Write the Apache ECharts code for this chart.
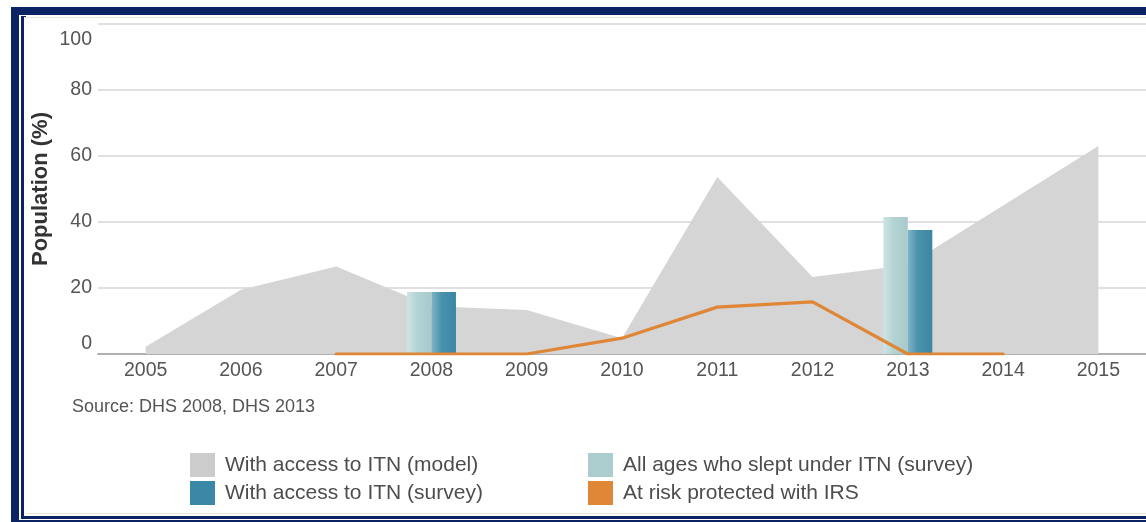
<!DOCTYPE html>
<html>
<head>
<meta charset="utf-8">
<script src="https://cdn.jsdelivr.net/npm/echarts@6/dist/echarts.min.js"></script>
<style>
  html, body { margin: 0; padding: 0; background: #ffffff; overflow: hidden; }
  #wrap { position: relative; width: 1146px; height: 522px; overflow: hidden; background: #fff; }
  .nv { position: absolute; background: #0b2263; }
  .bg { position: absolute; background: #e9e7de; }
  #chart { position: absolute; left: 0; top: 0; width: 1146px; height: 522px; }
</style>
</head>
<body>
<div id="wrap">
  <div class="nv" style="left:11px;top:7px;width:1200px;height:8px;"></div>
  <div class="nv" style="left:11px;top:7px;width:8px;height:600px;"></div>
  <div class="nv" style="left:11px;top:520px;width:1200px;height:8px;"></div>
  <div class="nv" style="left:21px;top:16px;width:3px;height:503px;"></div>
  <div class="nv" style="left:21px;top:16px;width:5px;height:1px;"></div>
  <div class="nv" style="left:21px;top:516px;width:1200px;height:3px;"></div>
  <div class="bg" style="left:24px;top:17px;width:1200px;height:1px;"></div>
  <div class="bg" style="left:26px;top:513px;width:1200px;height:1px;"></div>
  <div id="chart"></div>
</div>
<script>
const years = ['2005','2006','2007','2008','2009','2010','2011','2012','2013','2014','2015'];
const itnModel = [2.2, 19.5, 26.5, 14.5, 13.3, 4.8, 53.6, 23.3, 27, 45, 63];
const allAgesSlept = ['-', '-', '-', 18.8, '-', '-', '-', '-', 41.5, '-', '-'];
const itnSurvey = ['-', '-', '-', 18.8, '-', '-', '-', '-', 37.6, '-', '-'];
const irs = ['-', '-', 0, 0, 0, 4.8, 14.2, 15.8, 0, 0, '-'];
const yTicks = [0, 20, 40, 60, 80, 100];

const names = {
  model: 'With access to ITN (model)',
  survey: 'With access to ITN (survey)',
  allAges: 'All ages who slept under ITN (survey)',
  irs: 'At risk protected with IRS'
};

const FONT = '"Liberation Sans", Arial, Helvetica, sans-serif';
const chart = echarts.init(document.getElementById('chart'), null, { renderer: 'canvas' });

const legendCommon = {
  orient: 'vertical',
  icon: 'rect',
  itemWidth: 25,
  itemHeight: 24,
  itemGap: 4,
  padding: 0,
  selectedMode: false,
  textStyle: { fontFamily: FONT, fontSize: 21, color: '#4d4d4d', padding: [0, 0, 0, 5] }
};

chart.setOption({
  animation: false,
  backgroundColor: 'transparent',
  textStyle: { fontFamily: FONT },
  grid: { left: 98, right: 0, top: 24, bottom: 168, containLabel: false },
  legend: [
    Object.assign({}, legendCommon, {
      left: 190, top: 453,
      data: [
        { name: names.model, itemStyle: { color: '#cccccc' } },
        { name: names.survey, itemStyle: { color: '#3b88a6' } }
      ]
    }),
    Object.assign({}, legendCommon, {
      left: 588, top: 453,
      data: [
        { name: names.allAges, itemStyle: { color: '#abcdce' } },
        { name: names.irs, itemStyle: { color: '#df8637' } }
      ]
    })
  ],
  graphic: [
    {
      type: 'text', left: 72, top: 398,
      style: { text: 'Source: DHS 2008, DHS 2013', font: '18px ' + FONT, fill: '#555555' }
    },
    {
      type: 'text', x: 41, y: 189, rotation: Math.PI / 2,
      style: {
        text: 'Population (%)', font: 'bold 22px ' + FONT, fill: '#333333',
        align: 'center', verticalAlign: 'middle'
      }
    }
  ],
  xAxis: {
    type: 'category',
    data: years,
    boundaryGap: true,
    axisLine: { show: true, lineStyle: { color: '#b0b0b0', width: 2 } },
    axisTick: { show: false },
    axisLabel: { color: '#555555', fontSize: 19.5, fontFamily: FONT, margin: 7 },
    splitLine: { show: false }
  },
  yAxis: {
    type: 'value',
    min: 0, max: 100, interval: 20,
    axisLine: { show: false },
    axisTick: { show: false },
    axisLabel: {
      color: '#555555', fontSize: 19.5, fontFamily: FONT, margin: 6,
      formatter: function (v) {
        if (yTicks.indexOf(v) < 0) return '';
        if (v === 100) return '{top|' + v + '}';
        if (v === 0) return '{bot|' + v + '}';
        return String(v);
      },
      rich: {
        top: { padding: [32, 0, 0, 0], fontSize: 19.5, color: '#555555', fontFamily: FONT },
        bot: { padding: [0, 0, 20, 0], fontSize: 19.5, color: '#555555', fontFamily: FONT }
      }
    },
    splitLine: { show: true, lineStyle: { color: '#d6d6d6', width: 1.5 } }
  },
  series: [
    {
      name: names.model,
      type: 'line',
      data: itnModel,
      symbol: 'none',
      lineStyle: { width: 0, color: '#d5d5d5' },
      itemStyle: { color: '#cccccc' },
      areaStyle: { color: '#d5d5d5', opacity: 1 },
      z: 1
    },
    {
      name: names.allAges,
      type: 'bar',
      data: allAgesSlept,
      barWidth: 24.5,
      barGap: '0%',
      itemStyle: {
        color: new echarts.graphic.LinearGradient(0, 0, 1, 0, [
          { offset: 0, color: '#cde4e4' },
          { offset: 0.45, color: '#b3d2d3' },
          { offset: 1, color: '#a8cacb' }
        ])
      },
      z: 3
    },
    {
      name: names.survey,
      type: 'bar',
      data: itnSurvey,
      barWidth: 24.5,
      barGap: '0%',
      itemStyle: {
        color: new echarts.graphic.LinearGradient(0, 0, 1, 0, [
          { offset: 0, color: '#80b4c6' },
          { offset: 0.4, color: '#4b93ad' },
          { offset: 1, color: '#3a86a3' }
        ])
      },
      z: 3
    },
    {
      name: names.irs,
      type: 'line',
      data: irs,
      symbol: 'none',
      lineStyle: { width: 3.2, color: '#df8637', cap: 'round' },
      itemStyle: { color: '#df8637' },
      z: 5
    }
  ]
});
</script>
</body>
</html>
